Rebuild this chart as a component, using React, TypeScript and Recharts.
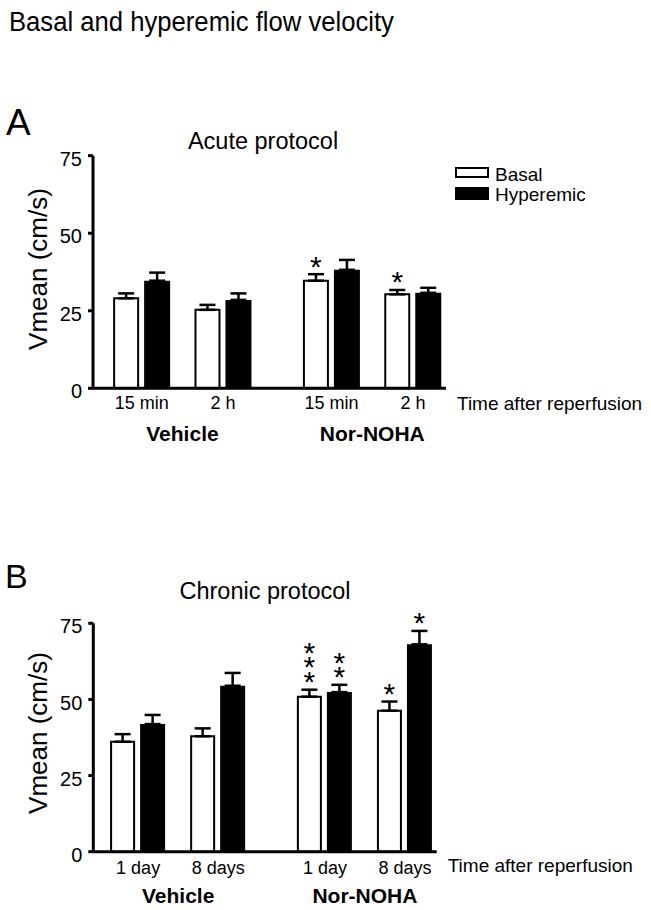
import React from 'react';
import { BarChart, Bar, XAxis, YAxis, ErrorBar, LabelList, Legend } from 'recharts';

const FONT = '"Liberation Sans", Arial, Helvetica, sans-serif';

// Panel A – acute protocol
const acuteTimes = ['15 min', '2 h', '15 min', '2 h'];
const acuteBasal = [29.0, 25.3, 34.7, 30.3];
const acuteBasalSem = [1.6, 1.6, 2.1, 1.4];
const acuteHyper = [34.7, 28.5, 38.2, 30.8];
const acuteHyperSem = [2.6, 2.1, 3.2, 1.6];
const acuteBasalSig = ['', '', '*', '*'];
const acuteHyperSig = ['', '', '', ''];

// Panel B – chronic protocol
const chronicTimes = ['1 day', '8 days', '1 day', '8 days'];
const chronicBasal = [36.1, 37.9, 50.9, 46.3];
const chronicBasalSem = [2.5, 2.6, 2.3, 3.0];
const chronicHyper = [41.9, 54.5, 52.4, 68.1];
const chronicHyperSem = [3.0, 4.2, 2.4, 4.4];
const chronicBasalSig = ['', '', '***', '*'];
const chronicHyperSig = ['', '', '**', '*'];

const groups = ['Vehicle', 'Nor-NOHA'];
const groupOf = [0, 0, 1, 1];
const yTicks = [0, 25, 50, 75];

// extra space between the two treatment groups, in category units
const GROUP_SPACE = 1 / 3;
const STAR_SIZE = 30;
const STAR_STEP = 15;

type Row = {
  x: number;
  label: string;
  basal: number;
  basalSem: number;
  hyper: number;
  hyperSem: number;
  basalSig: string;
  hyperSig: string;
};

function buildRows(
  times: string[],
  basal: number[],
  basalSem: number[],
  hyper: number[],
  hyperSem: number[],
  basalSig: string[],
  hyperSig: string[]
): Row[] {
  return times.map((label, i) => ({
    x: i + groupOf[i] * GROUP_SPACE,
    label,
    basal: basal[i],
    basalSem: basalSem[i],
    hyper: hyper[i],
    hyperSem: hyperSem[i],
    basalSig: basalSig[i],
    hyperSig: hyperSig[i],
  }));
}

const Txt = ({ x, baseline, size, bold, center, sx, children }: any) => (
  <div
    style={{
      position: 'absolute',
      left: x,
      top: baseline - 0.8465 * size,
      fontSize: size,
      lineHeight: 1,
      fontFamily: FONT,
      fontWeight: bold ? 'bold' : 'normal',
      whiteSpace: 'nowrap',
      transform: `${center ? 'translateX(-50%) ' : ''}${sx ? `scaleX(${sx})` : ''}`,
      transformOrigin: center ? '50% 50%' : '0 50%',
      color: '#000',
    }}
  >
    {children}
  </div>
);

const YTick = ({ x, y, payload }: any) => (
  <text x={x} y={y} dy={3 + 0.355 * 20} textAnchor="end" fontSize={20} fontFamily={FONT} fill="#000">
    {payload.value}
  </text>
);

const makeTimeTick = (rows: Row[]) => ({ x, y, payload }: any) => {
  const row = rows.find((r) => Math.abs(r.x - payload.value) < 1e-6);
  return (
    <text x={x} y={y} dy="0.71em" textAnchor="middle" fontSize={18} fontFamily={FONT} fill="#000">
      {row ? row.label : ''}
    </text>
  );
};

const makeGroupTick = (centers: number[]) => ({ x, y, payload }: any) => {
  const gi = centers.findIndex((c) => Math.abs(c - payload.value) < 1e-6);
  return (
    <text x={x} y={y} dy="0.71em" textAnchor="middle" fontSize={21} fontWeight="bold" fontFamily={FONT} fill="#000">
      {gi >= 0 ? groups[gi] : ''}
    </text>
  );
};

// significance stars, stacked vertically above the error bar in one text run
const makeStars = (rows: Row[], valueKey: 'basal' | 'hyper', semKey: 'basalSem' | 'hyperSem') => (props: any) => {
  const { index, value } = props;
  const vb = props.viewBox ?? props;
  if (!value || index == null) return null;
  const row = rows[index];
  const pxPerUnit = vb.height / row[valueKey];
  const errTop = vb.y - row[semKey] * pxPerUnit;
  const cx = vb.x + vb.width / 2;
  const n = String(value).length;
  const midY = errTop - 17.3 - (STAR_STEP / 2) * (n - 1);
  return (
    <text
      x={cx}
      y={midY}
      textAnchor="middle"
      fontSize={STAR_SIZE}
      fontFamily={FONT}
      fill="#000"
      letterSpacing={STAR_STEP - STAR_SIZE * 1.117}
      style={{ writingMode: 'vertical-rl', textOrientation: 'upright' } as any}
    >
      {value}
    </text>
  );
};

const LegendBox = ({ payload }: any) => (
  <svg width={150} height={40} style={{ display: 'block', overflow: 'visible' }}>
    {(payload || []).map((entry: any, i: number) => {
      const fill = entry.payload?.fill ?? entry.color;
      const hollow = fill === '#fff' || fill === '#ffffff';
      return (
        <g key={i}>
          {hollow ? (
            <rect x={1} y={2 + i * 20} width={32} height={9} fill="#fff" stroke="#000" strokeWidth={2} />
          ) : (
            <rect x={0} y={1 + i * 20} width={34} height={13} fill={fill} />
          )}
          <text x={40} y={14.7 + i * 20.3} fontSize={19} fontFamily={FONT} fill="#000">
            {entry.value}
          </text>
        </g>
      );
    })}
  </svg>
);

type PanelProps = {
  rows: Row[];
  top: number;
  height: number;
  margin: { top: number; right: number; bottom: number; left: number };
  domain: [number, number];
  tickAxisHeight: number;
  groupAxisHeight: number;
  tickMargin: number;
  basalSize: number;
  hyperSize: number;
  legend?: boolean;
  labelShift: number;
};

function Panel({
  rows,
  top,
  height,
  margin,
  domain,
  tickAxisHeight,
  groupAxisHeight,
  tickMargin,
  basalSize,
  hyperSize,
  legend,
  labelShift,
}: PanelProps) {
  const positions = rows.map((r) => r.x);
  const groupCenters = groups.map((_, g) => {
    const xs = rows.filter((_, i) => groupOf[i] === g).map((r) => r.x);
    return xs.reduce((a, b) => a + b, 0) / xs.length;
  });

  return (
    <div style={{ position: 'absolute', left: 0, top }}>
      <BarChart width={651} height={height} data={rows} margin={margin} barGap={6} style={{ fontFamily: FONT }}>
        <XAxis
          dataKey="x"
          type="number"
          domain={domain}
          allowDataOverflow
          ticks={positions}
          interval={0}
          height={tickAxisHeight}
          tickLine={false}
          tickSize={0}
          tickMargin={tickMargin}
          axisLine={{ stroke: '#000', strokeWidth: 3 }}
          tick={makeTimeTick(rows)}
          label={{
            value: 'Time after reperfusion',
            position: 'right',
            offset: 11,
            fontSize: 19,
            fill: '#000',
            fontFamily: FONT,
          }}
        />
        <XAxis
          xAxisId="group"
          dataKey="x"
          type="number"
          domain={domain}
          allowDataOverflow
          ticks={groupCenters}
          interval={0}
          height={groupAxisHeight}
          axisLine={false}
          tickLine={false}
          tickSize={0}
          tickMargin={8}
          tick={makeGroupTick(groupCenters)}
        />
        <YAxis
          domain={[0, 75]}
          ticks={yTicks}
          interval={0}
          width={60}
          tickSize={5}
          tickMargin={6}
          axisLine={{ stroke: '#000', strokeWidth: 3 }}
          tickLine={{ stroke: '#000', strokeWidth: 3 }}
          tick={YTick}
          label={(p: any) => {
            const vb = p.viewBox;
            const cx = vb.x + 13.7;
            const cy = vb.y + vb.height / 2 + labelShift;
            return (
              <text
                x={cx}
                y={cy}
                transform={`rotate(-90, ${cx}, ${cy})`}
                textAnchor="middle"
                fontSize={26}
                fontFamily={FONT}
                fill="#000"
              >
                Vmean (cm/s)
              </text>
            );
          }}
        />
        {legend && (
          <Legend
            layout="vertical"
            align="center"
            verticalAlign="middle"
            wrapperStyle={{ left: 455, top: 66, width: 150 }}
            content={LegendBox}
          />
        )}
        <Bar
          dataKey="basal"
          name="Basal"
          fill="#fff"
          stroke="#000"
          strokeWidth={2}
          barSize={basalSize}
          isAnimationActive={false}
        >
          <ErrorBar
            dataKey={(d: Row) => [0, d.basalSem]}
            direction="y"
            width={8}
            stroke="#000"
            strokeWidth={2.5}
            isAnimationActive={false}
          />
          <LabelList dataKey="basalSig" content={makeStars(rows, 'basal', 'basalSem')} />
        </Bar>
        <Bar dataKey="hyper" name="Hyperemic" fill="#000" barSize={hyperSize} isAnimationActive={false}>
          <ErrorBar
            dataKey={(d: Row) => [0, d.hyperSem]}
            direction="y"
            width={8}
            stroke="#000"
            strokeWidth={2.5}
            isAnimationActive={false}
          />
          <LabelList dataKey="hyperSig" content={makeStars(rows, 'hyper', 'hyperSem')} />
        </Bar>
      </BarChart>
    </div>
  );
}

export default function App() {
  const acuteRows = buildRows(acuteTimes, acuteBasal, acuteBasalSem, acuteHyper, acuteHyperSem, acuteBasalSig, acuteHyperSig);
  const chronicRows = buildRows(
    chronicTimes,
    chronicBasal,
    chronicBasalSem,
    chronicHyper,
    chronicHyperSem,
    chronicBasalSig,
    chronicHyperSig
  );

  return (
    <div style={{ position: 'absolute', left: 0, top: 0, width: 651, height: 910, background: '#fff', overflow: 'hidden' }}>
      <Txt x={9} baseline={32} size={27} sx={0.95}>
        Basal and hyperemic flow velocity
      </Txt>
      <Txt x={6} baseline={135} size={37}>
        A
      </Txt>
      <Txt x={263} baseline={150} size={23.5} center>
        Acute protocol
      </Txt>
      <Txt x={5} baseline={588} size={34}>
        B
      </Txt>
      <Txt x={265} baseline={600} size={23.5} center>
        Chronic protocol
      </Txt>

      <Panel
        rows={acuteRows}
        top={100}
        height={360}
        margin={{ top: 55.7, right: 205, bottom: 11.7, left: 33 }}
        domain={[-0.6, 3.74]}
        tickAxisHeight={30}
        groupAxisHeight={30}
        tickMargin={8}
        basalSize={24}
        hyperSize={26}
        legend
        labelShift={-3}
      />
      <Panel
        rows={chronicRows}
        top={560}
        height={350}
        margin={{ top: 63.3, right: 214.3, bottom: 2.3, left: 33.3 }}
        domain={[-0.56, 3.73]}
        tickAxisHeight={28}
        groupAxisHeight={28}
        tickMargin={9.5}
        basalSize={23}
        hyperSize={25}
        labelShift={-4.5}
      />
    </div>
  );
}
